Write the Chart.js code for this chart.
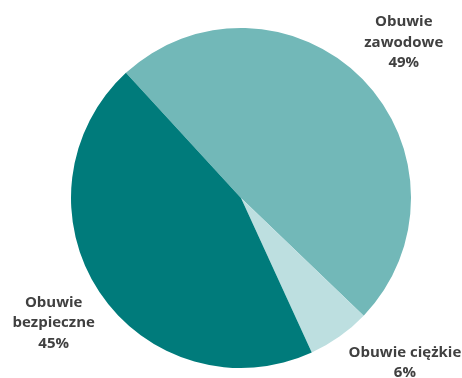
<!DOCTYPE html>
<html>
<head>
<meta charset="utf-8">
<script src="https://cdn.jsdelivr.net/npm/chart.js@4"></script>
<style>
  html, body { margin: 0; padding: 0; background: #ffffff; }
  #wrap { width: 462px; height: 378px; }
</style>
</head>
<body>
<div id="wrap"><canvas id="c" width="462" height="378"></canvas></div>
<script>
// Shoe categories and their share (%)
const categories = ["Obuwie zawodowe", "Obuwie ciężkie", "Obuwie bezpieczne"];
const labelLines = [["Obuwie", "zawodowe"], ["Obuwie ciężkie"], ["Obuwie", "bezpieczne"]];
const shares = [49, 6, 45];
const colors = ["#72b8b8", "#bddfe0", "#007b7b"];

// Label placement: distance from centre (in radii) along the slice's mid-angle, plus a nudge
const labelRadius = [1.34, 1.37, 1.33];
const labelNudge = [[0, 4], [29, -25], [1, 0]];

const outsideLabels = {
  id: "outsideLabels",
  afterDraw(chart) {
    const ctx = chart.ctx;
    const meta = chart.getDatasetMeta(0);
    const total = shares.reduce((a, b) => a + b, 0);
    ctx.save();
    ctx.fillStyle = "#404040";
    ctx.font = "bold 15px 'Open Sans', sans-serif";
    ctx.textAlign = "center";
    ctx.textBaseline = "middle";
    const lh = 20.5;
    meta.data.forEach((arc, i) => {
      const p = arc.getProps(["x", "y", "startAngle", "endAngle", "outerRadius"], true);
      const mid = (p.startAngle + p.endAngle) / 2;
      const r = p.outerRadius * labelRadius[i];
      const cx = p.x + Math.cos(mid) * r + labelNudge[i][0];
      const cy = p.y + Math.sin(mid) * r + labelNudge[i][1];
      const lines = labelLines[i].concat([Math.round(shares[i] / total * 100) + "%"]);
      const y0 = cy - (lines.length - 1) * lh / 2;
      lines.forEach((t, k) => ctx.fillText(t, cx, y0 + k * lh));
    });
    ctx.restore();
  }
};

new Chart(document.getElementById("c"), {
  type: "pie",
  data: {
    labels: categories,
    datasets: [{
      data: shares,
      backgroundColor: colors,
      borderWidth: 0
    }]
  },
  options: {
    responsive: false,
    animation: false,
    rotation: -42.6,
    layout: { padding: { left: 71, right: 51, top: 28, bottom: 10 } },
    plugins: {
      legend: { display: false },
      tooltip: { enabled: false }
    }
  },
  plugins: [outsideLabels]
});
</script>
</body>
</html>
